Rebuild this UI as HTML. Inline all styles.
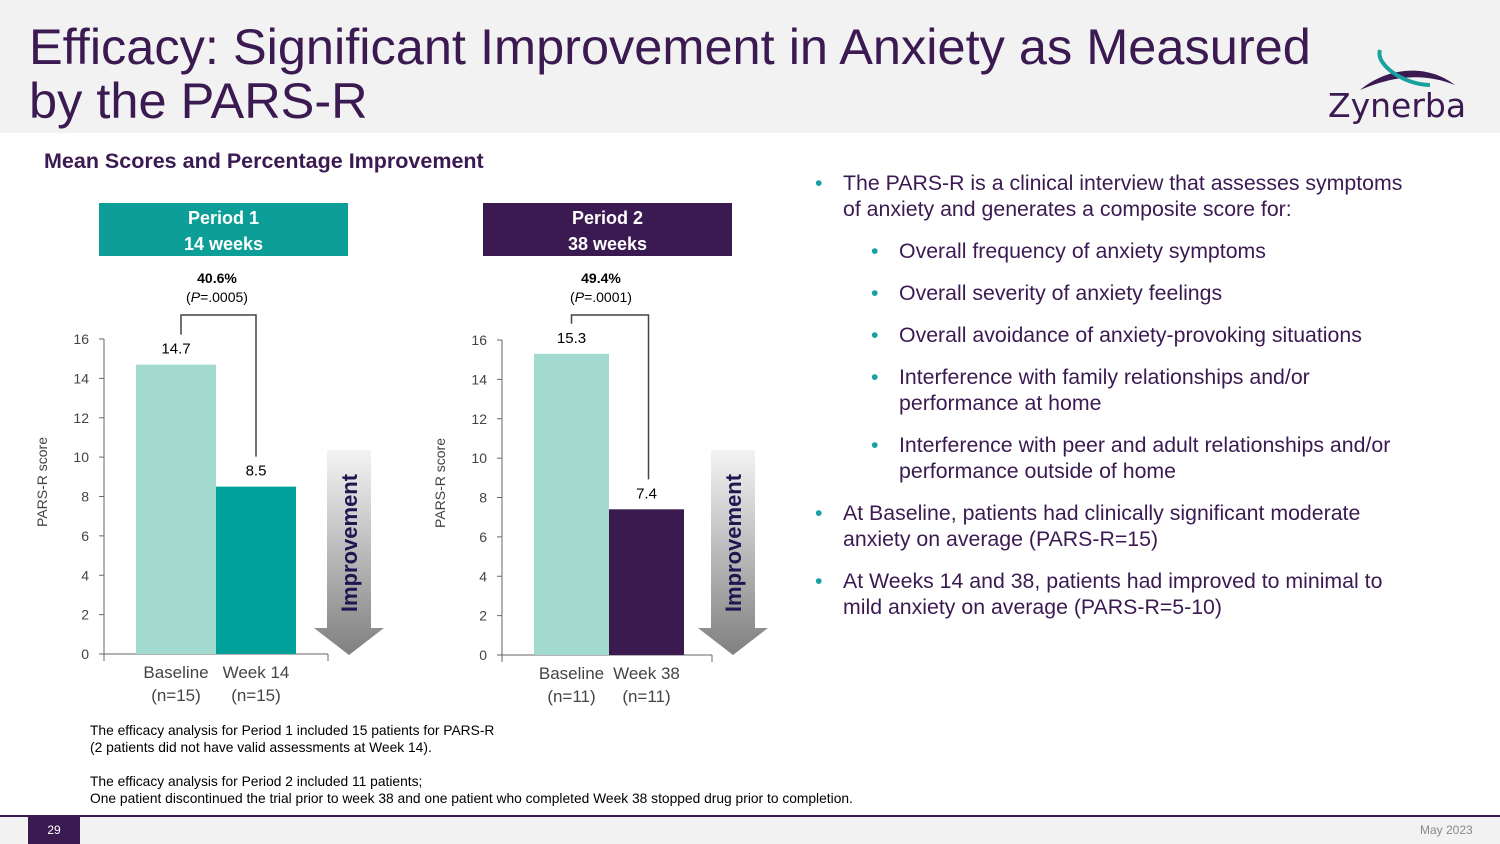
<!DOCTYPE html>
<html><head><meta charset="utf-8"><style>
body{margin:0;width:1500px;height:844px;overflow:hidden;background:#fff;font-family:"Liberation Sans",sans-serif;position:relative}
.abs{position:absolute}
#hdr{left:0;top:0;width:1500px;height:133px;background:#f2f2f2}
h1{position:absolute;left:29px;top:20px;margin:0;font-weight:normal;font-size:50.5px;line-height:54px;color:#3b1a52}
.bl{color:#3b1a52;font-size:21.3px;line-height:26px}
.bl li{list-style:none;position:relative}
.bl li::before{content:"•";color:#17a2a0;position:absolute;left:-28px}
</style></head><body>
<div id="hdr" class="abs"></div>
<h1>Efficacy: Significant Improvement in Anxiety as Measured<br>by the PARS-R</h1>
<svg class="abs" style="left:1320px;top:45px" width="170" height="85">
<path d="M40 45 C70 20,110 20,135 40 C105 28,75 30,40 45Z" fill="#3b1a52"/>
<path d="M60 5 C55 20,85 40,110 40" stroke="#17a2a0" stroke-width="4" fill="none"/>
<text x="8" y="72" font-size="33" fill="#3b1a52" font-family="DejaVu Sans">Zynerba</text></svg>
<div class="abs" style="left:44px;top:149px;font-size:21.5px;font-weight:bold;color:#3b1a52">Mean Scores and Percentage Improvement</div>
<svg class="abs" style="left:0;top:0" width="800" height="720" id="ch"></svg>
<ul class="abs bl" style="left:815px;top:170px;margin:0;padding:0 0 0 28px;width:582px">
<li style="margin-bottom:16px">The PARS-R is a clinical interview that assesses symptoms of anxiety and generates a composite score for:</li>
<li style="margin-left:56px;margin-bottom:16px">Overall frequency of anxiety symptoms</li>
<li style="margin-left:56px;margin-bottom:16px">Overall severity of anxiety feelings</li>
<li style="margin-left:56px;margin-bottom:16px">Overall avoidance of anxiety-provoking situations</li>
<li style="margin-left:56px;margin-bottom:16px">Interference with family relationships and/or performance at home</li>
<li style="margin-left:56px;margin-bottom:16px">Interference with peer and adult relationships and/or performance outside of home</li>
<li style="margin-bottom:16px">At Baseline, patients had clinically significant moderate anxiety on average (PARS-R=15)</li>
<li>At Weeks 14 and 38, patients had improved to minimal to mild anxiety on average (PARS-R=5-10)</li>
</ul>
<div class="abs" style="left:90px;top:722px;font-size:13.8px;line-height:17px;color:#000">The efficacy analysis for Period 1 included 15 patients for PARS-R<br>(2 patients did not have valid assessments at Week 14).</div>
<div class="abs" style="left:90px;top:773px;font-size:13.8px;line-height:17px;color:#000">The efficacy analysis for Period 2 included 11 patients;<br>One patient discontinued the trial prior to week 38 and one patient who completed Week 38 stopped drug prior to completion.</div>
<div class="abs" style="left:0;top:815px;width:1500px;height:29px;background:#f2f2f2;border-top:2px solid #3b1a52;box-sizing:border-box"></div>
<div class="abs" style="left:28px;top:817px;width:52px;height:27px;background:#3b1a52;color:#fff;font-size:12px;text-align:center;line-height:27px">29</div>
<div class="abs" style="left:1420px;top:823px;font-size:12px;color:#888">May 2023</div>
<script>
const periods=["Period 1","Period 2"];
const durations=["14 weeks","38 weeks"];
const categories1=["Baseline","Week 14"];
const categories2=["Baseline","Week 38"];
const ns1=["(n=15)","(n=15)"];
const ns2=["(n=11)","(n=11)"];
const values1=[14.7,8.5];
const values2=[15.3,7.4];
const pcts=["40.6%","49.4%"];
const pvals=[".0005",".0001"];
const ticks=[0,2,4,6,8,10,12,14,16];
const svg=document.getElementById('ch');const NS="http://www.w3.org/2000/svg";
function mk(t,a,txt){const e=document.createElementNS(NS,t);for(const k in a)e.setAttribute(k,a[k]);if(txt!=null)e.textContent=txt;svg.appendChild(e);return e;}
const cfgs=[{ax:104,y0:654,top:339,bx:136,bw:80,end:328,hx:99,hc:"#0e9e98",c:["#a2dad0","#00a19a"],cats:categories1,ns:ns1,vals:values1,arrow:327},
{ax:502,y0:655,top:340,bx:534,bw:75,end:712,hx:483,hc:"#3b1a52",c:["#a2dad0","#3b1a4f"],cats:categories2,ns:ns2,vals:values2,arrow:711}];
const defs=mk('defs',{});
defs.innerHTML='<linearGradient id="g" x1="0" y1="0" x2="0" y2="1"><stop offset="0" stop-color="#f4f4f4"/><stop offset="1" stop-color="#808080"/></linearGradient>';
cfgs.forEach((c,i)=>{
 const y=v=>c.y0-(c.y0-c.top)*v/16;
 let e=mk('rect',{x:c.hx,y:203,width:249,height:53,fill:c.hc});
 
 mk('text',{x:c.hx+124.5,y:224,'text-anchor':'middle',fill:'#fff','font-size':18,'font-weight':'bold'},periods[i]);
 mk('text',{x:c.hx+124.5,y:250,'text-anchor':'middle',fill:'#fff','font-size':18,'font-weight':'bold'},durations[i]);
 const cx=c.hx+118;
 mk('text',{x:cx,y:283,'text-anchor':'middle','font-size':14,'font-weight':'bold'},pcts[i]);
 const t=mk('text',{x:cx,y:302,'text-anchor':'middle','font-size':14});t.innerHTML='(<tspan font-style="italic">P</tspan>='+pvals[i]+')';
 const lx=c.bx+c.bw/2+(i?0:5),rx=c.bx+c.bw*1.5+(i?2:0);
 mk('path',{d:`M${lx} ${y(c.vals[0])-30} V315 H${rx} V${y(c.vals[1])-30}`,fill:'none',stroke:'#444','stroke-width':1.5});
 mk('line',{x1:c.ax,y1:c.top,x2:c.ax,y2:c.y0,stroke:'#666'});
 mk('line',{x1:c.ax,y1:c.y0,x2:c.end,y2:c.y0,stroke:'#666'});
 mk('line',{x1:c.ax,y1:c.y0,x2:c.ax,y2:c.y0+7,stroke:'#666'});
 mk('line',{x1:c.end,y1:c.y0,x2:c.end,y2:c.y0+7,stroke:'#666'});
 ticks.forEach(tk=>{mk('line',{x1:c.ax-5,y1:y(tk),x2:c.ax,y2:y(tk),stroke:'#666'});
  mk('text',{x:c.ax-15,y:y(tk)+5,'text-anchor':'end','font-size':14,fill:'#444'},tk);});
 mk('text',{x:0,y:0,transform:`translate(${c.ax-57},${c.y0-172}) rotate(-90)`,'text-anchor':'middle','font-size':14,fill:'#444'},'PARS-R score');
 c.vals.forEach((v,j)=>{const x=c.bx+j*c.bw;
  const b=mk('rect',{x:x,y:y(v),width:c.bw,height:c.y0-y(v),fill:c.c[j]});
  
  
  mk('text',{x:x+c.bw/2,y:y(v)-11,'text-anchor':'middle','font-size':15},v.toFixed(1));
  mk('text',{x:x+c.bw/2,y:c.y0+24,'text-anchor':'middle','font-size':17,fill:'#444'},c.cats[j]);
  mk('text',{x:x+c.bw/2,y:c.y0+47,'text-anchor':'middle','font-size':17,fill:'#444'},c.ns[j]);});
 const a=c.arrow;
 const ar=mk('path',{d:`M${a} 450 H${a+44} V628 H${a+57} L${a+22} 655 L${a-13} 628 H${a} Z`,fill:'url(#g)'});
 
 mk('text',{x:0,y:0,transform:`translate(${a+30},543) rotate(-90)`,'text-anchor':'middle','font-size':22,'font-weight':'bold',fill:'#1f1850'},'Improvement');
});
</script>
</body></html>
